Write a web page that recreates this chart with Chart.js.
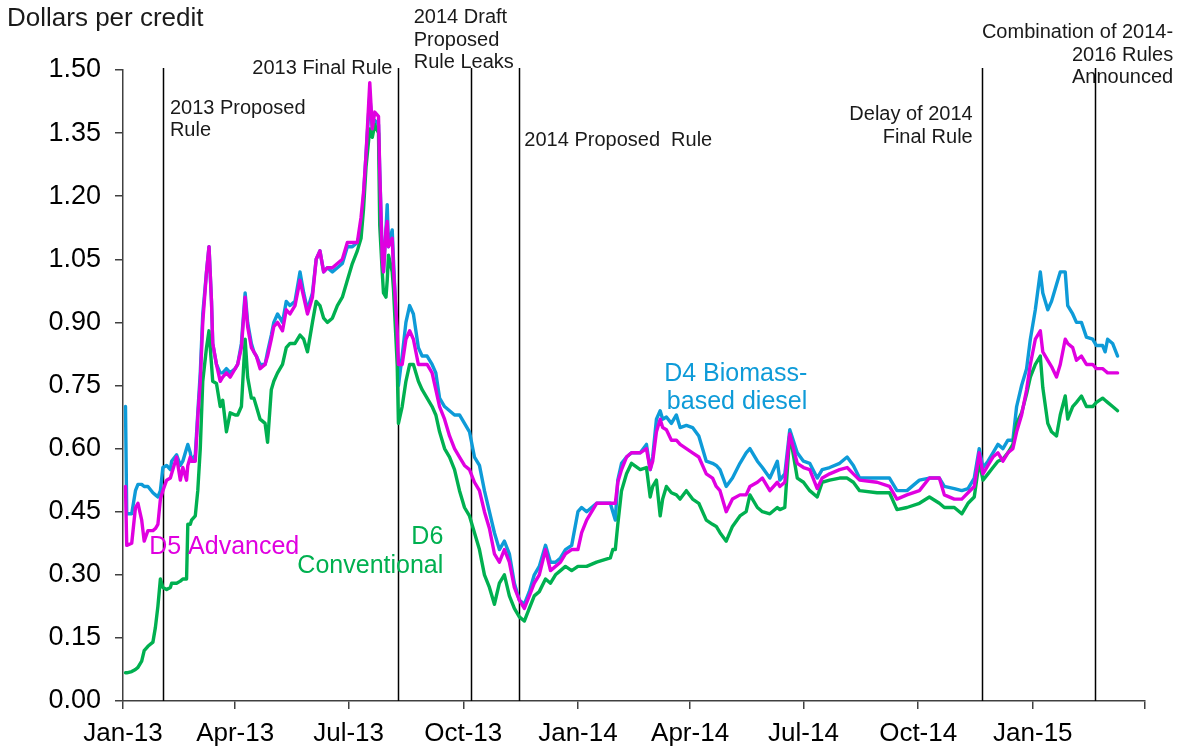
<!DOCTYPE html>
<html><head><meta charset="utf-8">
<script src="https://cdn.jsdelivr.net/npm/chart.js@4.4.1/dist/chart.umd.min.js"></script>
<style>html,body{margin:0;padding:0;background:#fff;} canvas{display:block;}</style>
</head><body>
<canvas id="c" width="1183" height="750"></canvas>
<script>
// days since 2013-01-01
const days = [2,3,7,10,12,15,17,20,24,26,28,30,32,35,38,39,43,46,48,51,52,54,55,58,60,62,64,67,69,71,72,75,78,80,83,86,90,92,95,98,100,103,105,107,110,114,116,119,121,124,128,131,134,138,142,145,148,152,155,158,161,164,168,172,176,180,184,188,191,193,195,198,200,202,205,206,208,209,211,212,213,216,217,220,221,224,227,230,233,237,240,244,248,251,254,258,262,266,270,274,278,282,286,290,294,298,302,306,310,314,318,322,326,330,334,339,343,347,351,355,360,365,368,372,380,391,393,395,397,400,404,408,415,420,423,425,428,431,433,436,440,444,447,452,457,462,468,473,476,479,484,489,495,500,503,509,513,519,525,527,531,535,541,546,551,557,561,567,575,581,586,591,605,615,621,629,639,647,655,659,667,673,678,683,687,690,694,698,702,706,710,714,717,721,725,728,732,736,738,742,745,749,752,756,758,762,765,769,773,778,781,786,788,790,794,798];
const d4 = [0.70,0.445,0.445,0.50,0.515,0.515,0.51,0.51,0.495,0.49,0.485,0.50,0.555,0.56,0.55,0.57,0.585,0.56,0.57,0.60,0.61,0.59,0.57,0.585,0.685,0.78,0.92,1.02,1.08,0.95,0.85,0.80,0.78,0.78,0.79,0.78,0.79,0.80,0.85,0.97,0.90,0.85,0.83,0.82,0.80,0.80,0.83,0.87,0.90,0.92,0.90,0.95,0.94,0.95,1.02,0.97,0.93,0.97,1.05,1.07,1.02,1.03,1.02,1.03,1.04,1.08,1.08,1.09,1.12,1.20,1.30,1.44,1.36,1.38,1.37,1.26,1.06,1.02,1.12,1.18,1.08,1.12,1.05,0.85,0.75,0.82,0.90,0.94,0.92,0.84,0.82,0.82,0.80,0.78,0.72,0.70,0.69,0.68,0.68,0.66,0.64,0.58,0.56,0.50,0.45,0.40,0.36,0.38,0.35,0.28,0.24,0.23,0.26,0.30,0.32,0.37,0.33,0.33,0.34,0.36,0.37,0.45,0.46,0.45,0.47,0.47,0.45,0.43,0.525,0.565,0.58,0.59,0.59,0.61,0.55,0.58,0.67,0.69,0.67,0.675,0.66,0.68,0.65,0.655,0.65,0.63,0.57,0.565,0.56,0.55,0.51,0.53,0.565,0.59,0.60,0.57,0.555,0.53,0.57,0.525,0.54,0.645,0.59,0.57,0.565,0.53,0.55,0.555,0.565,0.58,0.56,0.53,0.53,0.53,0.50,0.50,0.525,0.53,0.53,0.51,0.505,0.50,0.505,0.53,0.60,0.555,0.57,0.59,0.61,0.60,0.62,0.62,0.70,0.75,0.79,0.86,0.93,1.02,0.97,0.93,0.95,0.99,1.02,1.02,0.94,0.92,0.90,0.90,0.865,0.86,0.845,0.845,0.83,0.86,0.85,0.82];
const d5 = [0.51,0.37,0.375,0.46,0.47,0.43,0.38,0.405,0.405,0.41,0.42,0.48,0.50,0.525,0.53,0.54,0.58,0.525,0.555,0.525,0.56,0.58,0.57,0.57,0.675,0.76,0.90,1.02,1.08,0.95,0.85,0.80,0.76,0.77,0.78,0.77,0.79,0.80,0.84,0.96,0.89,0.84,0.83,0.82,0.79,0.80,0.82,0.86,0.89,0.90,0.88,0.93,0.92,0.94,1.00,0.96,0.92,0.96,1.05,1.07,1.02,1.03,1.03,1.04,1.05,1.09,1.09,1.09,1.15,1.21,1.30,1.47,1.36,1.40,1.39,1.26,1.05,1.02,1.12,1.14,1.08,1.10,1.03,0.88,0.80,0.80,0.86,0.88,0.86,0.80,0.80,0.80,0.78,0.74,0.70,0.67,0.63,0.60,0.58,0.56,0.55,0.52,0.50,0.45,0.41,0.35,0.33,0.36,0.33,0.27,0.24,0.22,0.25,0.28,0.30,0.36,0.31,0.32,0.33,0.35,0.36,0.36,0.40,0.43,0.47,0.47,0.47,0.47,0.52,0.55,0.58,0.59,0.59,0.60,0.55,0.57,0.64,0.67,0.65,0.645,0.62,0.62,0.61,0.60,0.59,0.58,0.54,0.53,0.51,0.50,0.45,0.48,0.49,0.49,0.51,0.52,0.53,0.50,0.52,0.51,0.52,0.635,0.565,0.555,0.55,0.505,0.53,0.54,0.55,0.555,0.54,0.525,0.52,0.51,0.48,0.49,0.50,0.53,0.53,0.49,0.48,0.48,0.495,0.51,0.59,0.54,0.56,0.58,0.59,0.57,0.59,0.60,0.64,0.68,0.74,0.80,0.86,0.88,0.83,0.81,0.795,0.77,0.80,0.86,0.85,0.84,0.81,0.82,0.80,0.80,0.79,0.79,0.785,0.78,0.78,0.78];
const d6 = [0.067,0.067,0.07,0.075,0.08,0.095,0.12,0.13,0.14,0.175,0.225,0.29,0.27,0.265,0.27,0.28,0.28,0.285,0.29,0.29,0.42,0.42,0.43,0.44,0.50,0.60,0.76,0.84,0.88,0.80,0.76,0.755,0.70,0.715,0.64,0.685,0.68,0.68,0.70,0.86,0.77,0.72,0.72,0.70,0.67,0.66,0.615,0.74,0.76,0.78,0.80,0.84,0.85,0.85,0.87,0.86,0.83,0.90,0.95,0.94,0.91,0.90,0.91,0.94,0.96,1.00,1.04,1.07,1.10,1.17,1.27,1.36,1.34,1.37,1.35,1.13,1.02,0.97,0.96,1.00,1.06,1.02,0.98,0.80,0.66,0.70,0.76,0.80,0.80,0.76,0.74,0.72,0.70,0.68,0.64,0.60,0.58,0.55,0.50,0.46,0.44,0.40,0.36,0.30,0.27,0.23,0.28,0.30,0.25,0.22,0.20,0.19,0.22,0.25,0.26,0.29,0.28,0.30,0.31,0.32,0.31,0.32,0.32,0.32,0.33,0.34,0.36,0.36,0.42,0.50,0.54,0.565,0.55,0.555,0.485,0.51,0.525,0.44,0.48,0.51,0.495,0.49,0.48,0.50,0.48,0.47,0.43,0.42,0.415,0.40,0.38,0.415,0.44,0.45,0.49,0.46,0.45,0.445,0.46,0.455,0.46,0.635,0.53,0.52,0.50,0.485,0.52,0.525,0.53,0.53,0.52,0.50,0.495,0.495,0.455,0.46,0.47,0.485,0.47,0.46,0.46,0.445,0.47,0.485,0.57,0.525,0.54,0.555,0.57,0.575,0.59,0.61,0.66,0.685,0.73,0.77,0.80,0.82,0.745,0.66,0.64,0.63,0.68,0.725,0.67,0.70,0.71,0.725,0.70,0.70,0.71,0.72,0.715,0.71,0.70,0.69];

const tickDays = [0, 90, 181, 273, 365, 455, 546, 638, 730, 820];
const tickLabels = ['Jan-13','Apr-13','Jul-13','Oct-13','Jan-14','Apr-14','Jul-14','Oct-14','Jan-15',''];
const yTicks = [0, 0.15, 0.30, 0.45, 0.60, 0.75, 0.90, 1.05, 1.20, 1.35, 1.50];
const eventDays = [32, 221, 279, 318, 689, 780];
const eventLabels = [['2013 Proposed','Rule'], ['2013 Final Rule'], ['2014 Draft','Proposed','Rule Leaks'], ['2014 Proposed  Rule'], ['Delay of 2014','Final Rule'], ['Combination of 2014-','2016 Rules','Announced']];
const seriesNames = ['D4 Biomass-based diesel', 'D5 Advanced', 'D6 Conventional'];
const seriesLabelLines = [['D4 Biomass-','based diesel'], ['D5 Advanced'], ['D6','Conventional']];

const BLUE = '#0E9BD8', MAGENTA = '#E000E0', GREEN = '#00B050';
const FONT = '"Liberation Sans", Arial, sans-serif';

// layout of text annotations (pixels relative to event line)
const eventTextLayout = [
  {dx: 7, align: 'left', ys: [108, 130]},
  {dx: -6, align: 'right', ys: [68]},
  {dx: -57, align: 'left', ys: [17, 40, 62]},
  {dx: 5, align: 'left', ys: [140]},
  {dx: -9, align: 'right', ys: [114, 137]},
  {dx: 78, align: 'right', ys: [32, 55, 77]}
];
// series label anchors in data space
const seriesLabelLayout = [
  {day: 549, value: 0.777, align: 'right', color: BLUE, gap: 28},
  {day: 21, value: 0.366, align: 'left', color: MAGENTA, gap: 28},
  {day: 257, value: 0.39, align: 'right', color: GREEN, gap: 29}
];

const annotations = {
  id: 'annotations',
  beforeDatasetsDraw(chart) {
    const {ctx, chartArea, scales} = chart;
    const xs = scales.x;
    ctx.save();
    ctx.fillStyle = '#1a1a1a';
    ctx.font = '20px ' + FONT;
    ctx.textBaseline = 'middle';
    eventDays.forEach((d, i) => {
      const px = xs.getPixelForValue(d);
      const L = eventTextLayout[i];
      ctx.textAlign = L.align;
      eventLabels[i].forEach((t, j) => ctx.fillText(t, px + L.dx, L.ys[j]));
    });
    ctx.strokeStyle = '#000';
    ctx.lineWidth = 1.5;
    eventDays.forEach(d => {
      const px = Math.round(xs.getPixelForValue(d)) + 0.5;
      ctx.beginPath();
      ctx.moveTo(px, chartArea.top - 2);
      ctx.lineTo(px, chartArea.bottom);
      ctx.stroke();
    });
    // title
    ctx.textAlign = 'left';
    ctx.font = '26px ' + FONT;
    ctx.fillText('Dollars per credit', 7, 19);
    ctx.restore();
  },
  afterDatasetsDraw(chart) {
    const {ctx, scales} = chart;
    ctx.save();
    ctx.font = '25px ' + FONT;
    ctx.textBaseline = 'middle';
    seriesLabelLayout.forEach((L, i) => {
      const px = scales.x.getPixelForValue(L.day);
      const py = scales.y.getPixelForValue(L.value);
      ctx.fillStyle = L.color;
      ctx.textAlign = L.align;
      seriesLabelLines[i].forEach((t, j) => ctx.fillText(t, px, py + j * L.gap));
    });
    ctx.restore();
  }
};

const mk = (vals) => days.map((d, i) => ({x: d, y: vals[i]}));

new Chart(document.getElementById('c'), {
  type: 'line',
  data: {
    datasets: [
      {label: seriesNames[1], data: mk(d5), borderColor: MAGENTA},
      {label: seriesNames[2], data: mk(d6), borderColor: GREEN},
      {label: seriesNames[0], data: mk(d4), borderColor: BLUE}
    ].map(ds => Object.assign(ds, {borderWidth: 3.4, pointRadius: 0, tension: 0, fill: false, borderJoinStyle: 'round', borderCapStyle: 'round'}))
  },
  options: {
    responsive: false,
    animation: false,
    devicePixelRatio: 1,
    layout: {padding: {top: 70, right: 38, left: 0, bottom: 0}},
    plugins: {legend: {display: false}, tooltip: {enabled: false}},
    scales: {
      x: {
        type: 'linear', min: 0, max: 820,
        afterBuildTicks: (s) => { s.ticks = tickDays.map(v => ({value: v})); },
        afterFit: (s) => { s.height = 49; },
        ticks: {
          autoSkip: false, maxRotation: 0, padding: 9, color: '#000',
          font: {family: FONT, size: 26},
          callback: (v, i) => tickLabels[i]
        },
        grid: {drawOnChartArea: false, drawTicks: true, tickLength: 8, color: '#404040', lineWidth: 1.5},
        border: {display: true, color: '#404040', width: 1.5}
      },
      y: {
        min: 0, max: 1.5,
        afterBuildTicks: (s) => { s.ticks = yTicks.map(v => ({value: v})); },
        afterFit: (s) => { s.width = 123; },
        ticks: {
          padding: 14, color: '#000',
          font: {family: FONT, size: 27},
          callback: (v) => Number(v).toFixed(2)
        },
        grid: {drawOnChartArea: false, drawTicks: true, tickLength: 8, color: '#404040', lineWidth: 1.5},
        border: {display: true, color: '#404040', width: 1.5}
      }
    }
  },
  plugins: [annotations]
});
</script>
</body></html>
